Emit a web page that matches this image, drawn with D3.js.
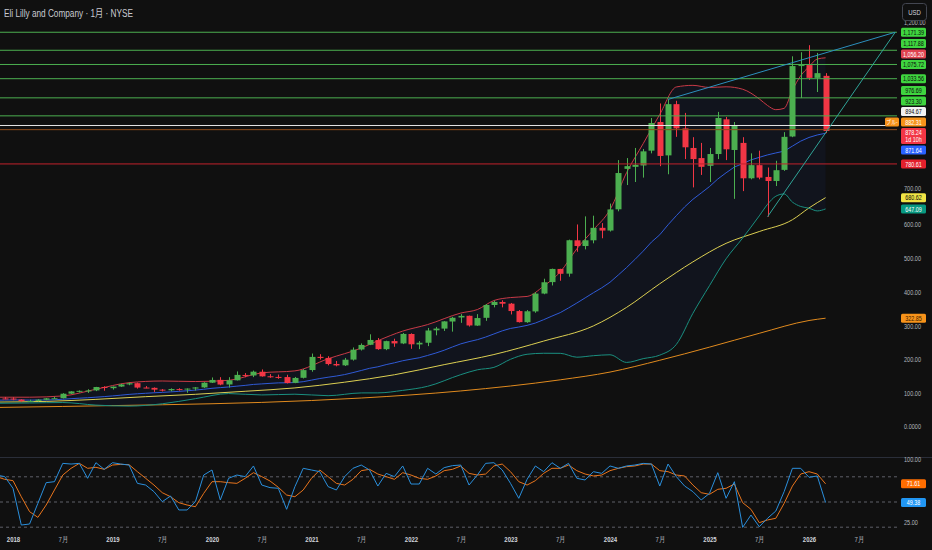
<!DOCTYPE html>
<html lang="ja">
<head>
<meta charset="UTF-8" />
<title>Eli Lilly and Company · 1月 · NYSE</title>
<script src="https://cdn.jsdelivr.net/npm/d3@7"></script>
<style>
html,body{margin:0;padding:0;background:#101010;overflow:hidden}
svg{display:block;font-family:"Liberation Sans","Noto Sans CJK JP",Arial,sans-serif}
</style>
</head>
<body>
<svg id="chart" width="932" height="550"></svg>
<script>
/* ===== data: monthly candles Nov 2017 .. Mar 2026 ===== */
const firstMonth=new Date(2017,10,1),lastMonth=new Date(2026,2,1);
const open =[82.0,84.8,84.5,81.5,77.2,77.5,81.0,85.1,85.5,98.9,105.5,107.2,108.6,118.8,
 115.2,120.0,126.4,130.0,117.1,116.2,110.8,108.9,112.5,111.8,114.1,117.5,
 131.5,139.8,126.2,138.5,154.5,152.8,164.0,150.5,148.6,148.2,131.0,146.0,
 169.0,208.2,204.9,187.0,183.0,200.0,230.0,244.0,258.0,231.0,255.0,248.0,
 276.0,245.0,250.0,287.0,292.0,313.0,325.0,330.0,301.0,324.0,362.0,371.0,
 366.0,344.0,311.0,343.0,396.0,430.0,469.0,455.0,554.0,537.0,554.0,591.0,
 583.0,646.0,766.0,772.0,776.0,820.0,905.0,806.0,958.0,886.0,828.0,798.0,
 775.0,810.0,913.0,822.0,843.0,738.0,777.0,742.0,730.0,763.0,862.0,1071.0,
 1074.0,1036.0,1042.0];
const high =[87.5,89.1,88.4,82.3,81.0,82.5,86.0,89.8,100.4,106.2,108.5,112.0,119.1,121.0,
 120.2,128.0,132.1,132.0,121.5,117.5,112.5,114.7,115.0,114.5,118.5,133.0,
 147.0,147.9,147.8,164.9,160.0,167.4,170.8,157.0,155.6,155.0,148.5,172.0,
 218.0,216.0,210.0,196.0,205.0,236.0,248.0,275.0,264.0,256.0,262.0,279.0,
 278.0,255.0,294.0,297.0,314.0,327.0,335.0,330.5,335.0,365.0,375.0,376.0,
 368.0,347.0,347.0,400.0,440.0,470.0,469.5,556.0,601.0,625.0,627.0,605.0,
 663.0,792.0,798.0,828.0,825.0,917.0,960.0,972.0,968.0,932.0,860.0,843.0,
 828.0,935.0,920.0,905.0,860.0,812.0,820.0,770.0,790.0,875.0,1100.0,1112.0,
 1133.0,1110.0,1050.0];
const low  =[81.0,82.5,79.5,74.4,74.5,75.8,79.5,83.2,84.8,98.0,102.3,101.2,106.5,107.6,
 111.0,118.8,124.0,114.0,115.0,104.0,105.5,106.0,108.0,101.5,108.0,116.0,
 130.5,124.0,117.1,138.0,147.7,148.0,149.5,146.0,143.0,129.2,130.0,144.0,
 164.0,200.0,183.0,180.0,181.0,197.0,227.0,243.0,229.0,228.0,238.0,246.0,
 232.0,231.0,240.0,272.0,285.0,283.0,309.0,298.0,300.0,315.0,355.0,355.0,
 334.0,310.0,309.0,339.0,394.0,420.0,434.0,446.0,520.0,527.0,545.0,560.0,
 580.0,640.0,718.0,727.0,740.0,812.0,774.0,750.0,861.0,795.0,711.0,748.0,
 727.0,795.0,792.0,677.0,700.0,735.0,735.0,624.0,715.0,760.0,860.0,976.0,
 1030.0,994.0,872.0];
const close=[84.6,84.5,81.5,77.0,77.4,81.1,85.0,85.3,98.8,105.6,107.3,108.4,118.6,115.7,
 119.9,126.3,129.8,117.0,116.0,110.8,108.9,112.7,111.8,114.0,117.4,131.4,
 139.6,126.0,138.7,154.6,153.0,164.2,150.3,148.4,148.0,130.5,145.6,168.8,
 208.0,204.9,186.8,182.8,199.7,229.5,243.5,258.3,231.0,254.8,248.0,276.2,
 245.4,250.0,286.4,292.1,313.4,324.2,329.7,301.3,323.3,362.1,371.1,365.8,
 344.1,311.2,343.4,395.9,429.5,469.0,454.6,554.2,537.1,554.0,591.0,582.9,
 645.6,753.6,774.0,778.0,818.0,902.0,804.3,958.0,886.0,830.0,795.0,772.0,
 810.0,917.0,824.0,896.0,738.0,777.0,740.0,730.0,762.0,861.0,1071.0,1074.0,
 1036.0,1050.0,878.24];

/* Bollinger basis, one value per month */
const bbBasis=[79.4,79.9,80.2,80.1,79.8,80.0,80.2,80.8,82.4,84.0,85.5,86.8,88.5,90.2,
 92.2,94.4,96.8,98.6,100.1,101.5,102.7,104.2,105.7,107.5,109.5,112.0,
 114.8,116.8,118.8,121.2,123.5,126.3,127.9,129.5,130.9,131.2,131.9,134.5,
 139.1,143.8,147.7,151.2,155.6,161.4,167.7,174.1,178.6,185.1,190.5,196.6,
 201.2,205.5,212.3,219.5,227.8,237.5,246.7,253.3,259.1,266.9,276.1,285.3,
 292.5,296.6,301.6,308.5,318.4,329.1,339.4,353.3,367.9,383.1,398.4,412.9,
 429.5,451.0,473.2,497.0,521.8,548.8,570.4,600.0,627.1,653.1,675.6,694.4,
 713.5,735.9,754.3,771.4,781.5,792.6,800.1,807.4,813.2,818.6,833.5,848.3,
 859.2,866.6,871.64];
/* Bollinger bands, read at these months (index from Jan 2018) */
const bandMonths=[-2,2,6,10,14,18,22,26,30,34,38,42,44,47,50,54,56,58,60,62,
 64,66,68,70,72,74,76,78,80,82,84,86,88,90,91,92,93,94,95,96,97,98];
const bbUpper=[88.4,88.4,92.2,112.0,131.6,136.5,134.9,138.4,160.7,166.5,202.5,234.3,256.0,284.6,303.9,338.1,348.5,375.3,384.1,387.4,
 418.0,460.2,528.7,585.2,644.7,754.8,840.8,927.6,1009.0,1013.8,1007.5,1009.5,1002.3,973.7,954.0,941.6,945.6,999.7,1042.3,1069.2,1092.0,1095.5];
const bbLower=[70.4,71.2,72.6,65.0,62.0,68.9,84.1,99.2,95.1,97.3,92.9,101.1,101.2,108.6,120.7,155.3,169.7,176.9,200.9,215.8,
 218.8,218.6,207.1,211.6,214.3,191.6,202.8,213.2,245.0,337.4,419.5,499.1,560.7,626.5,660.8,684.8,691.6,667.3,654.3,649.2,641.2,647.09];
/* moving averages */
const yellowMonths=[-2,4,10,16,22,28,34,40,46,52,58,64,70,74,78,82,86,90,94,96,98];
const yellowMA=[74,76,82,90,97,106,116,133,155,185,215,255,300,355,425,490,545,580,615,650,680.62];
const orangeMonths=[-2,6,18,30,42,54,66,72,78,84,90,96,98];
const orangeMA=[58,61,66,73,86,107,140,163,198,237,278,316,322.85];
/* stochastic, one value per month */
const stochK=[82.1,80.2,66.3,22.6,23.8,48.4,73.0,74.2,96.0,95.2,96.0,78.2,96.8,88.9,
 96.8,95.2,94.0,72.2,70.2,62.3,50.4,57.1,40.5,40.5,50.4,82.1,
 88.1,52.4,78.2,82.1,80.2,92.9,70.2,67.1,66.3,41.3,68.3,90.1,
 88.1,86.1,68.3,64.3,80.2,90.1,94.0,88.1,69.0,84.1,80.2,92.9,
 71.4,71.4,90.1,83.3,90.9,93.3,94.0,70.2,82.1,96.0,96.8,88.1,
 72.2,54.4,77.0,92.9,86.1,96.8,90.1,96.0,78.2,76.2,86.1,84.1,
 92.9,90.1,92.9,94.0,96.0,95.2,69.0,95.2,80.2,69.0,62.3,52.4,
 60.3,84.9,54.4,74.2,19.8,34.5,20.6,30.6,39.3,62.3,90.1,90.1,
 79.4,81.0,49.38];
const stochD=[80.2,77.0,75.4,56.3,38.5,31.7,46.4,64.3,82.1,90.1,96.0,90.1,91.3,88.9,
 94.0,94.8,94.4,86.1,78.2,70.2,61.1,56.3,49.2,46.4,44.4,60.3,
 74.2,74.2,73.0,72.2,78.2,84.9,80.2,75.0,67.5,58.3,56.3,64.3,
 78.2,88.1,80.2,72.2,70.2,77.0,87.3,88.9,83.3,80.2,77.0,84.9,
 82.1,78.2,77.0,81.0,87.3,88.9,92.9,84.1,82.1,83.3,92.9,95.2,
 86.1,74.2,70.2,75.4,84.1,90.1,90.1,94.0,87.3,83.3,81.0,82.1,
 87.3,90.1,92.1,92.9,95.2,95.2,87.3,86.1,82.1,81.0,70.2,61.1,
 59.1,65.1,66.3,71.4,49.2,41.3,25.4,28.6,30.6,48.4,69.0,83.3,
 86.1,83.3,71.61];
/* drawings */
const greenLevels=[1171.39,1117.88,1075.72,1033.56,976.69,923.30];
const whiteLevel=894.67, orangeLevel=882.31, redLevel=780.61;
const trendA={m:[79,106.4],v:[972,1171.39]};
const trendB={m:[91,106.4],v:[624,1171.39]};
const upperTag=1056.20, lastPrice=878.24, countdown='1d 10h';
const priceTicks=d3.range(0,1201,100), stochTicks=[25,50,75,100], stochBands=[80,50,20];

/* ===== layout ===== */
const W=932,H=550,PR=897,MAINB=457;
const UP='#4caf50',DN='#f23645';
const svg=d3.select('#chart');
svg.append('rect').attr('width',W).attr('height',H).attr('fill','#101010');
const mIdx=d=>(d.getFullYear()-2018)*12+d.getMonth();
const months=d3.timeMonth.range(firstMonth,d3.timeMonth.offset(lastMonth,1));
const x=d3.scaleLinear().domain([0,96]).range([13,809]);
const y=d3.scaleLinear().domain([0,1200]).range([427,22.6]);
const ys=d3.scaleLinear().domain([0,100]).range([544,460]);
const narrow=(sel,k=0.74)=>sel.each(function(){
  const n=this.getComputedTextLength();
  d3.select(this).attr('textLength',n*k).attr('lengthAdjust','spacingAndGlyphs');
});

const defs=svg.append('defs');
defs.append('clipPath').attr('id','cm').append('rect').attr('width',PR).attr('height',MAINB);
defs.append('clipPath').attr('id','cs').append('rect').attr('y',458).attr('width',PR).attr('height',76);
const main=svg.append('g').attr('clip-path','url(#cm)');
const low2=svg.append('g').attr('clip-path','url(#cs)');

const candles=months.map((d,i)=>({m:mIdx(d),o:open[i],h:high[i],l:low[i],c:close[i]}));
const pts=(ms,vs)=>ms.map((m,i)=>({m,v:vs[i]}));
const band=bandMonths.map((m,i)=>({m,u:bbUpper[i],l:bbLower[i]}));

/* bollinger fill */
main.append('path').datum(band).attr('fill','#2962ff').attr('fill-opacity',0.055)
  .attr('d',d3.area().curve(d3.curveMonotoneX).x(d=>x(d.m)).y0(d=>y(d.l)).y1(d=>y(d.u)));
/* moving averages & bands */
const smooth=d3.line().curve(d3.curveMonotoneX).x(d=>x(d.m)).y(d=>y(d.v));
const plain=d3.line().x(d=>x(d.m)).y(d=>y(d.v));
const addLine=(g,data,gen,color,w=1)=>g.append('path').datum(data).attr('fill','none')
  .attr('stroke',color).attr('stroke-width',w).attr('d',gen);
addLine(main,pts(orangeMonths,orangeMA),smooth,'#e08a1e');
addLine(main,pts(yellowMonths,yellowMA),smooth,'#dccf52');
addLine(main,pts(bandMonths,bbLower),smooth,'#1a8f80');
addLine(main,candles.map((d,i)=>({m:d.m,v:bbBasis[i]})),plain,'#2f5ad6');
addLine(main,pts(bandMonths,bbUpper),smooth,'#c83a46');

/* candles */
const cx=d=>Math.round(x(d.m))+0.5;
main.append('g').selectAll('line').data(candles).join('line')
  .attr('x1',cx).attr('x2',cx).attr('y1',d=>y(d.h)).attr('y2',d=>y(d.l))
  .attr('stroke',d=>d.c>=d.o?UP:DN).attr('stroke-width',1);
main.append('g').selectAll('rect').data(candles).join('rect')
  .attr('x',d=>cx(d)-3).attr('width',6)
  .attr('y',d=>y(Math.max(d.o,d.c))).attr('height',d=>Math.max(1,Math.abs(y(d.o)-y(d.c))))
  .attr('fill',d=>d.c>=d.o?UP:DN);

/* horizontal levels and trend lines */
const hline=(v,color,w=1)=>main.append('line').attr('x1',0).attr('x2',PR)
  .attr('y1',y(v)).attr('y2',y(v)).attr('stroke',color).attr('stroke-width',w);
greenLevels.forEach(v=>hline(v,'#4caf50'));
hline(whiteLevel,'#e6e6e6');
hline(orangeLevel,'#8f4c1c');
hline(redLevel,'#c1222c');
addLine(main,pts(trendA.m,trendA.v),plain,'#2c8fbd');
addLine(main,pts(trendB.m,trendB.v),plain,'#2fa397');

/* separator */
svg.append('line').attr('x1',0).attr('x2',W).attr('y1',457.5).attr('y2',457.5).attr('stroke','#2a2e39');

/* stochastic panel */
stochBands.forEach(v=>low2.append('line').attr('x1',0).attr('x2',PR).attr('y1',ys(v)).attr('y2',ys(v))
  .attr('stroke','#787b86').attr('stroke-opacity',0.75).attr('stroke-dasharray','3,3'));
const sline=d3.line().x(d=>x(d.m)).y(d=>ys(d.v));
addLine(low2,candles.map((d,i)=>({m:d.m,v:stochD[i]})),sline,'#e8741c');
addLine(low2,candles.map((d,i)=>({m:d.m,v:stochK[i]})),sline,'#2a8fdc');

/* price labels: place them first so axis ticks can step aside */
const fmt=d3.format(',.2f');
const labels=[
  ...greenLevels.map(v=>({ay:y(v),t:fmt(v),bg:'#3fd53f',fg:'#0c0c0c'})),
  {ay:y(bbUpper[bbUpper.length-1]),t:fmt(upperTag),bg:'#e0424f',fg:'#ffffff'},
  {ay:y(whiteLevel),t:fmt(whiteLevel),bg:'#f2f2f2',fg:'#0c0c0c'},
  {ay:y(orangeLevel),t:fmt(orangeLevel),bg:'#f7931a',fg:'#ffffff',tag:'ブル-'},
  {ay:y(bbBasis[bbBasis.length-1]),t:fmt(bbBasis[bbBasis.length-1]),bg:'#2962ff',fg:'#ffffff'},
  {ay:y(redLevel),t:fmt(redLevel),bg:'#e3202c',fg:'#ffffff'},
  {ay:y(yellowMA[yellowMA.length-1]),t:fmt(yellowMA[yellowMA.length-1]),bg:'#f0e445',fg:'#0c0c0c'},
  {ay:y(bbLower[bbLower.length-1]),t:fmt(bbLower[bbLower.length-1]),bg:'#089981',fg:'#ffffff'},
  {ay:y(orangeMA[orangeMA.length-1]),t:fmt(orangeMA[orangeMA.length-1]),bg:'#f7931a',fg:'#3a2000'}
];
const curY=y(lastPrice),curTop=curY-3,curBot=curY+13;
let lim=curTop-1.5;
labels.filter(l=>l.ay<curY).sort((a,b)=>b.ay-a.ay).forEach(l=>{l.cy=Math.min(l.ay,lim-4.5);lim=l.cy-6;});
lim=curBot+1.5;
labels.filter(l=>l.ay>=curY).sort((a,b)=>a.ay-b.ay).forEach(l=>{l.cy=Math.max(l.ay,lim+4.5);lim=l.cy+6;});
const stochLabels=[[stochD,'#ff6d00'],[stochK,'#2196f3']].map(([s,c])=>({v:s[s.length-1],cy:ys(s[s.length-1]),bg:c}));
const boxes=[...labels.map(l=>[l.cy-4.5,l.cy+4.5]),[curTop,curBot],...stochLabels.map(l=>[l.cy-4.5,l.cy+4.5])];
/* a tick text nudges off a label it barely touches, and hides behind one that covers it */
const hit=t=>boxes.find(([a,b])=>t+4>a&&t-4<b);
function tickPos(t){
  const bx=hit(t);
  if(!bx) return t;
  let n=null;
  if(t<bx[0]&&bx[0]-(t+4)>-3) n=bx[0]-4.2;
  else if(t>bx[1]&&(t-4)-bx[1]>-3) n=bx[1]+4.2;
  return n!==null&&!hit(n)?n:null;
}

/* axes */
const axisR=(scale,vals,fmtFn)=>{
  const kept=vals.map(v=>({v,p:tickPos(scale(v))})).filter(d=>d.p!==null);
  const g=svg.append('g').attr('transform','translate(902,0)')
    .call(d3.axisRight(scale).tickValues(kept.map(d=>d.v)).tickSize(0).tickPadding(2).tickFormat(fmtFn));
  g.select('.domain').remove();
  g.selectAll('.tick').attr('transform',(v,i)=>`translate(0,${kept[i].p})`);
  g.selectAll('text').attr('fill','#b2b5be').attr('font-size','7.5px').call(narrow);
};
axisR(y,priceTicks,v=>v===0?'0.0000':d3.format(',.2f')(v));
axisR(ys,stochTicks,d3.format('.2f'));
const tvals=d3.range(0,103,6);
const ta=svg.append('g').attr('transform','translate(0,537)')
  .call(d3.axisBottom(x).tickValues(tvals).tickSize(0).tickPadding(0)
  .tickFormat(m=>m%12===0?String(2018+m/12):'7月'));
ta.select('.domain').remove();
ta.selectAll('text').attr('font-size','7.5px')
  .attr('fill',m=>m%12===0?'#d1d4dc':'#aeb1ba').attr('font-weight',m=>m%12===0?'bold':'normal')
  .call(narrow,0.8);

const lg=svg.append('g').attr('font-size','7.5px');
labels.forEach(l=>{
  lg.append('rect').attr('x',901).attr('y',l.cy-4.5).attr('width',25).attr('height',9).attr('rx',1.5).attr('fill',l.bg);
  lg.append('text').attr('x',913.5).attr('y',l.cy+2.6).attr('text-anchor','middle').attr('fill',l.fg).text(l.t).call(narrow,0.72);
  if(l.tag){
    lg.append('rect').attr('x',885).attr('y',l.cy-4.5).attr('width',14).attr('height',9).attr('rx',1.5).attr('fill',l.bg);
    lg.append('text').attr('x',892).attr('y',l.cy+2.4).attr('text-anchor','middle').attr('fill','#fff')
      .attr('font-size','6px').attr('font-family','"Noto Sans CJK JP",sans-serif').text(l.tag).call(narrow,0.8);
  }
});
lg.append('rect').attr('x',901).attr('y',curTop).attr('width',25).attr('height',16).attr('rx',1.5).attr('fill',DN);
lg.append('text').attr('x',913.5).attr('y',curTop+6.8).attr('text-anchor','middle').attr('fill','#fff').text(fmt(lastPrice)).call(narrow,0.72);
lg.append('text').attr('x',913.5).attr('y',curTop+14).attr('text-anchor','middle').attr('fill','#fff').text(countdown).call(narrow,0.72);
stochLabels.forEach(l=>{
  lg.append('rect').attr('x',901).attr('y',l.cy-4.5).attr('width',25).attr('height',9).attr('rx',1.5).attr('fill',l.bg);
  lg.append('text').attr('x',913.5).attr('y',l.cy+2.6).attr('text-anchor','middle').attr('fill','#fff').text(d3.format('.2f')(l.v)).call(narrow,0.72);
});

/* currency box + title */
svg.append('rect').attr('x',902.5).attr('y',3.5).attr('width',24).attr('height',17).attr('rx',3)
  .attr('fill','#101010').attr('stroke','#434651');
svg.append('text').attr('x',914.5).attr('y',14.6).attr('text-anchor','middle').attr('font-size','7.5px')
  .attr('fill','#d1d4dc').text('USD').call(narrow,0.8);
svg.append('text').attr('x',4).attr('y',16.5).attr('font-size','10px').attr('fill','#c8cad0')
  .attr('textLength',129).attr('lengthAdjust','spacingAndGlyphs')
  .text('Eli Lilly and Company · 1月 · NYSE');
</script>
</body>
</html>
